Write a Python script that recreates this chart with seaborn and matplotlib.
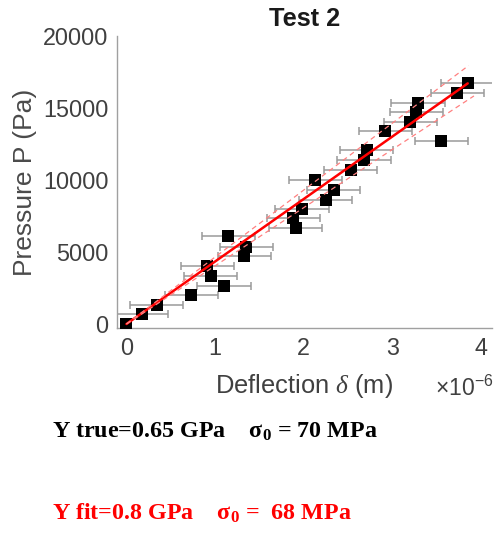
import numpy as np
import pandas as pd
import matplotlib
matplotlib.use("Agg")
import matplotlib.pyplot as plt
import seaborn as sns

# Data (deflection in units of 1e-6 m, pressure in Pa)
deflection = [0.00, 0.17, 0.34, 0.73, 0.95, 0.91, 1.10, 1.15, 1.33, 1.35,
              1.88, 1.91, 1.98, 2.13, 2.25, 2.34, 2.53, 2.68, 2.71, 2.92,
              3.20, 3.27, 3.29, 3.55, 3.73, 3.85]
pressure = [0, 680, 1320, 2000, 3340, 4040, 2670, 6080, 4690, 5340,
            7360, 6660, 8010, 10030, 8640, 9330, 10700, 11400, 12060, 13390,
            14040, 14740, 15370, 12740, 16020, 16710]
x_err = [0.0] + [0.3] * 25
fit_slope = 4340.0          # Pa per 1e-6 m
band_slopes = [4650.0, 4040.0]
fit_x = [0.0, 3.85]
band_x = [[0.0, 3.86], [0.0, 3.92]]

xticks = [0, 1, 2, 3, 4]
yticks = [0, 5000, 10000, 15000, 20000]

sns.set_theme(style="white")
plt.rcParams['font.family'] = ['Liberation Sans', 'DejaVu Sans']
plt.rcParams['mathtext.fontset'] = 'custom'
plt.rcParams['mathtext.rm'] = 'Liberation Serif'
plt.rcParams['mathtext.it'] = 'Liberation Serif:italic'
plt.rcParams['mathtext.bf'] = 'Liberation Serif:bold'
plt.rcParams['mathtext.sf'] = 'Liberation Sans'

fig = plt.figure(figsize=(4.98, 5.33), dpi=100)
ax = fig.add_axes([0.2343, 0.3837, 0.7530, 0.5488])

df = pd.DataFrame({"x": deflection, "P": pressure, "xerr": x_err})

ax.errorbar(df["x"], df["P"], xerr=df["xerr"], fmt="none", ecolor="#9a9a9a",
            elinewidth=1.1, capsize=3, capthick=1.1, zorder=2)
sns.scatterplot(data=df, x="x", y="P", marker="s", s=82, color="black",
                edgecolor="black", linewidth=0, ax=ax, zorder=3)

fit_df = pd.DataFrame({"x": fit_x, "P": [fit_slope * v for v in fit_x]})
sns.lineplot(data=fit_df, x="x", y="P", color="#ff0000", linewidth=1.8, ax=ax, zorder=4)
for s, bx in zip(band_slopes, band_x):
    bdf = pd.DataFrame({"x": bx, "P": [s * v for v in bx]})
    sns.lineplot(data=bdf, x="x", y="P", color="#ff8080", linewidth=0.9,
                 linestyle=(0, (4, 3)), ax=ax, zorder=4)

ax.set_xlim(-0.11, 4.12)
ax.set_ylim(-310, 20000)
ax.set_xticks(xticks)
ax.set_yticks(yticks)
ax.set_xticklabels([str(t) for t in xticks])
ax.set_yticklabels([str(t) for t in yticks])

for side in ["top", "right"]:
    ax.spines[side].set_visible(False)
for side in ["left", "bottom"]:
    ax.spines[side].set_color("#a0a0a0")
    ax.spines[side].set_linewidth(1.0)
ax.tick_params(direction="in", length=3, width=0.8, color="#a0a0a0",
               labelcolor="#404040", labelsize=16.8, pad=6)

ax.set_xlabel(r"Deflection $\delta$ (m)", fontsize=18.4, color="#404040")
ax.set_ylabel("Pressure P (Pa)", fontsize=19, color="#4a4a4a")
ax.xaxis.set_label_coords(0.5, -0.148)
ax.yaxis.set_label_coords(-0.212, 0.5)
ax.set_title("Test 2", fontsize=18.3, fontweight="bold", color="#1a1a1a", pad=7)

fig.text(0.873, 1 - 388 / 533, r"$\mathsf{\times10^{-6}}$", fontsize=16.5, color="#404040",
         ha="left", va="center")

fig.text(0.104, 1 - 432 / 533, r"Y true=0.65 GPa    $\mathbf{\sigma_0}$ = 70 MPa",
         fontsize=17.3, fontweight="bold", family="Liberation Serif",
         color="black", ha="left", va="center")
fig.text(0.104, 1 - 513 / 533, r"Y fit=0.8 GPa    $\mathbf{\sigma_0}$ =  68 MPa",
         fontsize=17.3, fontweight="bold", family="Liberation Serif",
         color="#ff0000", ha="left", va="center")

fig.savefig("out.png", dpi=100)
